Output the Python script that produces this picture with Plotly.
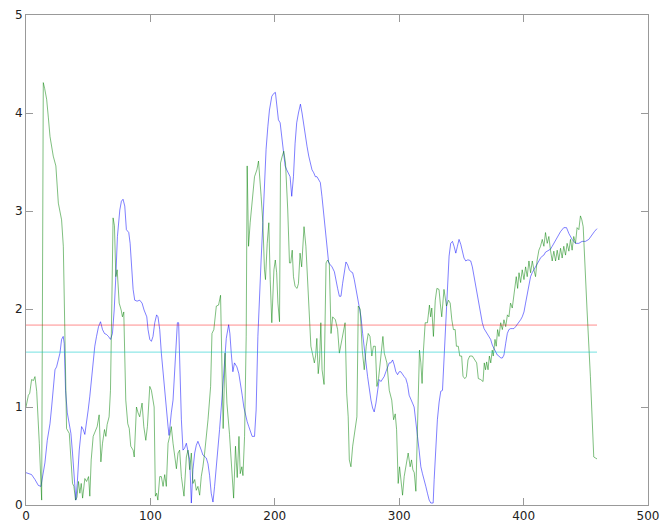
import plotly.graph_objects as go

blue_x = [0, 2, 4.5, 7.2, 9.9, 12, 13.4, 15.2, 17.1, 19.3, 20.6, 21.9, 23.3, 24.6, 25.9, 27.3, 28.6, 29.9, 30.7, 31.8,
          33.2, 34.8, 36.1, 37.4, 38.8, 40.1, 41.2, 42.8, 44.7, 46, 47.3, 48.7, 50, 51.3, 52.7, 54, 55.3, 56.7, 58.3, 59.9,
          61.5, 63.1, 64.7, 66.3, 67.9, 69.5, 70.9, 72.2, 73.5, 75.4, 76.7, 78, 79.4, 80.7, 82.6, 83.7, 84.8, 86.1, 87.4, 89.3,
          91.4, 93.3, 94.9, 97.1, 98.1, 99.5, 100.8, 102.1, 103.5, 105, 106.1, 107.5, 108.8, 110.2, 111.5, 112.9, 114.2, 115, 116, 116.8,
          118.2, 119.5, 120.9, 121.7, 122.7, 123.5, 124.9, 126.2, 127.5, 128.9, 130.2, 131.6, 132.9, 134.2, 135.6, 136.9, 138.2, 139.6, 140.9, 142.2,
          143.6, 144.9, 146.3, 147.6, 148.9, 150.3, 151.6, 152.9, 154.3, 155.6, 157, 158.3, 159.7, 161, 162.9, 163.9, 165, 166.3, 167.6, 169.5,
          171.1, 172.5, 173.8, 175.1, 176.5, 177.8, 179.1, 180.5, 181.8, 183.7, 185, 186.4, 187.7, 189, 190.4, 191.7, 193, 194.4, 195.7, 197.6,
          199.2, 200.5, 201.6, 202.9, 204.3, 205.6, 206.9, 208.3, 209.6, 210.9, 212.3, 213.6, 215, 216.3, 217.6, 219, 220.6, 221.9, 223.3, 224.6,
          225.9, 227.3, 228.6, 229.9, 231.3, 232.6, 233.9, 235.3, 236.6, 237.9, 239.3, 240.6, 242, 243.3, 244.7, 246, 247.9, 249.2, 250.5, 251.9,
          253.2, 254.5, 255.9, 257.2, 258.6, 259.9, 261.2, 262.6, 263.9, 265.2, 266.6, 267.9, 269.3, 270.6, 271.9, 273.3, 274.6, 275.9, 277.3, 278.6,
          279.9, 281.3, 282.6, 283.9, 285.3, 286.6, 287.9, 289.3, 290.6, 292, 293.3, 294.7, 296, 297.3, 298.7, 300, 301.3, 302.7, 304, 305.3,
          306.7, 308, 309.4, 310.7, 312, 313.4, 314.7, 316, 317.4, 318.7, 320.1, 321.4, 322.7, 324.1, 325.4, 327.3, 328.1, 329.4, 330.7, 332.1,
          333.4, 334.8, 336.1, 337.4, 338.8, 340.1, 341.4, 342.8, 344.1, 345.5, 346.8, 348.1, 349.5, 350.8, 352.1, 353.5, 354.8, 356.1, 357.5, 358.8,
          360.2, 361.5, 362.8, 364.2, 365.5, 366.8, 368.2, 369.5, 370.9, 372.2, 373.5, 374.9, 376.2, 377.5, 378.9, 380.2, 381.6, 382.9, 384.2, 385.6,
          386.9, 388.2, 389.6, 390.9, 392.2, 393.6, 394.9, 396.3, 397.6, 398.9, 400.3, 401.6, 402.9, 404.3, 405.6, 406.9, 408.3, 409.6, 411, 412.3,
          413.6, 415, 416.3, 417.6, 419, 420.3, 421.6, 423, 424.3, 427, 429.7, 432.3, 434.5, 436.4, 439, 441.7, 444.4, 447, 449.7, 452.4,
          455, 456.9, 459]
blue_y = [0.33, 0.32, 0.31, 0.26, 0.20, 0.19, 0.29, 0.43, 0.66, 0.83, 1.00, 1.21, 1.38, 1.41, 1.48, 1.55, 1.69, 1.72, 1.65, 1.17,
          0.94, 0.83, 0.73, 0.53, 0.26, 0.05, 0.22, 0.56, 0.80, 0.77, 0.72, 0.83, 0.97, 1.11, 1.31, 1.45, 1.62, 1.72, 1.82, 1.87,
          1.79, 1.75, 1.74, 1.72, 1.69, 1.75, 1.99, 2.33, 2.74, 3.01, 3.10, 3.12, 3.05, 2.81, 2.78, 2.67, 2.47, 2.20, 2.09, 2.08,
          2.09, 2.06, 1.99, 1.92, 1.79, 1.69, 1.67, 1.72, 1.86, 1.94, 1.92, 1.79, 1.55, 1.34, 1.14, 0.97, 0.80, 0.71, 0.90, 0.94,
          1.07, 1.38, 1.65, 1.86, 1.86, 1.45, 0.87, 0.56, 0.58, 0.63, 0.56, 0.46, 0.02, 0.36, 0.53, 0.61, 0.65, 0.61, 0.56, 0.51,
          0.49, 0.48, 0.42, 0.30, 0.12, 0.03, 0.19, 0.36, 0.56, 0.77, 1.00, 1.25, 1.52, 1.70, 1.84, 1.75, 1.55, 1.36, 1.45, 1.41,
          1.34, 1.24, 1.12, 1.00, 0.90, 0.85, 0.80, 0.75, 0.70, 0.70, 0.97, 1.72, 2.20, 2.50, 2.88, 3.32, 3.63, 3.86, 4.03, 4.17,
          4.20, 4.21, 4.07, 3.93, 3.90, 3.76, 3.56, 3.46, 3.42, 3.39, 3.35, 3.15, 3.35, 3.69, 3.90, 4.00, 4.09, 4.00, 3.86, 3.76,
          3.66, 3.56, 3.49, 3.42, 3.39, 3.35, 3.35, 3.32, 3.29, 3.15, 2.98, 2.81, 2.64, 2.47, 2.45, 2.43, 2.38, 2.31, 2.21, 2.13,
          2.13, 2.26, 2.40, 2.48, 2.45, 2.40, 2.38, 2.37, 2.30, 2.20, 2.09, 2.03, 1.92, 1.75, 1.58, 1.45, 1.31, 1.17, 1.07, 0.99,
          0.95, 1.04, 1.17, 1.28, 1.26, 1.28, 1.31, 1.36, 1.41, 1.45, 1.45, 1.48, 1.43, 1.36, 1.33, 1.36, 1.36, 1.34, 1.31, 1.29,
          1.23, 1.12, 1.07, 1.04, 1.00, 0.87, 0.70, 0.56, 0.39, 0.32, 0.26, 0.19, 0.12, 0.05, 0.02, 0.02, 0.26, 0.60, 0.87, 1.05,
          1.16, 1.17, 1.52, 1.96, 2.33, 2.54, 2.67, 2.69, 2.64, 2.57, 2.64, 2.71, 2.66, 2.59, 2.52, 2.49, 2.50, 2.50, 2.49, 2.43,
          2.33, 2.23, 2.13, 2.03, 1.92, 1.86, 1.80, 1.77, 1.75, 1.72, 1.69, 1.63, 1.60, 1.57, 1.53, 1.52, 1.50, 1.50, 1.53, 1.65,
          1.75, 1.79, 1.80, 1.80, 1.80, 1.82, 1.84, 1.86, 1.89, 1.92, 1.97, 2.06, 2.16, 2.26, 2.33, 2.37, 2.40, 2.43, 2.47, 2.50,
          2.52, 2.54, 2.55, 2.58, 2.59, 2.60, 2.61, 2.64, 2.67, 2.74, 2.79, 2.83, 2.83, 2.77, 2.71, 2.67, 2.67, 2.69, 2.69, 2.71,
          2.76, 2.79, 2.82]

green_x = [0, 1.9, 3, 4.5, 6, 7.2, 8.6, 9.9, 10.7, 12.6, 13.9, 15, 16.6, 18, 19.3, 21.9, 24, 26, 28.6, 30,
           31.3, 32.6, 34.8, 36.1, 37.4, 38.5, 39.8, 41, 42.2, 43.3, 44.4, 45.5, 47.3, 48.7, 50.3, 51.3, 52.4, 54, 56.1, 57.2,
           58.8, 60.2, 61.5, 63.1, 64.2, 65.2, 66.8, 67.9, 69, 70, 71.1, 72.2, 73.3, 74.9, 76.5, 77.5, 78.6, 80.2, 81.8, 83,
           84.2, 86.1, 87, 88.8, 90.1, 91.4, 93.3, 94.7, 96.3, 97.6, 99.5, 100.8, 103, 104, 105, 106, 107.5, 108.8, 110.2, 111.5,
           112.8, 114.2, 115.5, 116.8, 118.2, 119.5, 120.9, 122.2, 123.5, 124.9, 127, 128.9, 130.2, 131.6, 132.9, 134.2, 135.6, 136.9, 138.2, 139.6,
           140.9, 142.2, 143.6, 146.3, 148.4, 149.5, 151, 153, 154.8, 156.4, 157.5, 158.5, 160, 161.5, 163.6, 165.1, 166.9, 168.4, 169.8, 171.2,
           172.2, 173.5, 174.4, 175.7, 177, 177.8, 178.9, 180.2, 181.8, 183.7, 185.6, 186.9, 189, 190.4, 191.7, 192.5, 193.9, 195.2, 196.3, 197.6,
           199.3, 200.4, 201.5, 202.5, 203.8, 204.6, 206, 207.2, 208.6, 209.6, 210.4, 211.8, 212.8, 214, 215, 216.3, 217.9, 219, 220.3, 221.6,
           223.5, 225, 226.4, 227.8, 229, 230.5, 231.8, 232.8, 233.8, 234.9, 236, 237, 238, 239.6, 241.2, 242.5, 243.8, 245.2, 246.5, 248.7,
           250.5, 251.9, 254.5, 256.5, 257.8, 259, 259.9, 261.2, 262.6, 264.4, 266, 267.1, 268.6, 270.3, 271.9, 273.5, 275.1, 276.5, 278, 279.3,
           280.8, 282.1, 283.4, 285.3, 286.9, 288, 290.1, 292, 294, 295.5, 296.8, 297.9, 299.2, 300.3, 301.4, 302.7, 304, 306.1, 307.2, 308.8,
           309.9, 311, 312.1, 313.4, 314.7, 316.3, 317.4, 318.4, 319.5, 320.9, 322.7, 324.3, 325.3, 326.2, 327.5, 329, 330.3, 332, 333, 334.2,
           336, 338, 339.6, 341, 342.3, 343.6, 345, 346, 347.5, 348.7, 350.2, 351.3, 352.9, 354, 355.3, 356.7, 358.8, 361, 362.3, 363.6,
           365.5, 367.4, 368.4, 369.4, 370.3, 371.4, 372.5, 373.6, 374.8, 375.6, 377, 378, 379.1, 380.2, 381.6, 382.9, 384.2, 385.6, 387, 388.2,
           389.5, 390.9, 392.2, 393, 394.1, 395.2, 396.3, 397.6, 398.9, 400.3, 401.6, 402.9, 404.3, 405.6, 407, 408.3, 409.6, 410.9, 412.3, 413.6,
           415, 416.3, 417.6, 419, 420.3, 421.6, 423, 424.3, 425.7, 427, 428.3, 429.7, 431, 432.3, 433.7, 435, 436.4, 437.7, 439, 440.3,
           441.7, 443, 444.4, 445.7, 446.8, 447.9, 449, 451, 453.7, 456.4, 457.7, 459]
green_y = [1.00, 1.12, 1.14, 1.28, 1.27, 1.31, 1.16, 0.87, 0.63, 0.05, 4.31, 4.25, 4.14, 3.95, 3.76, 3.56, 3.46, 3.08, 2.91, 2.64,
           1.72, 0.78, 0.73, 0.46, 0.22, 0.19, 0.05, 0.08, 0.24, 0.12, 0.22, 0.07, 0.27, 0.24, 0.29, 0.09, 0.46, 0.70, 0.78, 0.80,
           0.92, 0.44, 0.63, 0.77, 0.70, 0.82, 0.90, 1.17, 2.06, 2.93, 2.85, 2.33, 2.40, 2.06, 1.99, 1.92, 1.97, 1.07, 0.83, 0.78,
           0.60, 0.56, 0.49, 1.00, 0.94, 0.90, 1.04, 0.80, 0.66, 0.80, 1.21, 1.17, 1.00, 0.09, 0.12, 0.05, 0.29, 0.29, 0.19, 0.31,
           0.19, 0.63, 0.70, 0.80, 0.63, 0.49, 0.37, 0.53, 0.56, 0.29, 0.09, 0.49, 0.56, 0.36, 0.53, 0.22, 0.26, 0.15, 0.19, 0.10,
           0.29, 0.39, 0.53, 0.87, 1.21, 1.75, 1.79, 2.03, 2.04, 2.14, 1.40, 0.78, 1.55, 1.04, 0.72, 0.45, 0.07, 0.60, 0.28, 0.70,
           0.32, 0.39, 0.30, 0.70, 1.72, 3.46, 2.64, 2.88, 3.08, 3.35, 3.42, 3.51, 3.15, 2.88, 2.40, 2.30, 2.67, 2.88, 2.30, 1.86,
           2.40, 2.50, 2.37, 2.06, 1.87, 3.49, 3.56, 3.61, 3.49, 3.29, 3.01, 2.47, 2.47, 2.60, 2.33, 2.23, 2.21, 2.26, 2.57, 2.43,
           2.84, 2.64, 2.30, 1.92, 1.62, 1.53, 1.45, 1.52, 1.70, 1.34, 1.48, 1.86, 1.38, 1.23, 2.47, 2.50, 2.47, 1.75, 1.92, 1.89,
           1.79, 1.55, 1.75, 1.86, 1.14, 0.90, 0.46, 0.39, 0.60, 0.77, 0.90, 2.03, 2.00, 1.58, 1.38, 1.62, 1.75, 1.72, 1.52, 1.62,
           1.62, 1.21, 1.29, 1.52, 1.72, 1.55, 1.45, 1.17, 1.07, 0.87, 0.93, 0.77, 0.22, 0.39, 0.22, 0.10, 0.29, 0.43, 0.53, 0.39,
           0.46, 0.36, 0.33, 0.14, 0.73, 1.58, 1.45, 1.24, 1.58, 1.86, 1.86, 2.04, 1.92, 2.01, 1.72, 2.09, 2.21, 2.20, 2.06, 1.92,
           2.20, 2.03, 2.09, 2.06, 1.89, 1.79, 1.79, 1.62, 1.62, 1.52, 1.52, 1.31, 1.29, 1.31, 1.48, 1.52, 1.52, 1.48, 1.45, 1.29,
           1.28, 1.26, 1.45, 1.38, 1.46, 1.38, 1.52, 1.45, 1.58, 1.52, 1.69, 1.62, 1.79, 1.72, 1.86, 1.79, 1.89, 1.82, 1.94, 1.92,
           2.06, 2.01, 2.13, 2.23, 2.33, 2.21, 2.37, 2.27, 2.40, 2.30, 2.43, 2.33, 2.49, 2.37, 2.49, 2.40, 2.33, 2.50, 2.60, 2.64,
           2.71, 2.64, 2.78, 2.67, 2.74, 2.60, 2.49, 2.59, 2.49, 2.60, 2.50, 2.62, 2.52, 2.64, 2.55, 2.67, 2.59, 2.71, 2.60, 2.74,
           2.67, 2.83, 2.81, 2.95, 2.91, 2.84, 2.47, 1.99, 1.31, 0.49, 0.48, 0.47]

line_x = [0, 459]
red_level = 1.836
cyan_level = 1.56

x_ticks = [0, 100, 200, 300, 400, 500]
y_ticks = [0, 1, 2, 3, 4, 5]

fig = go.Figure()
fig.add_trace(go.Scatter(x=blue_x, y=blue_y, mode="lines",
                         line=dict(color="rgba(0,0,255,0.5)", width=1), showlegend=False))
fig.add_trace(go.Scatter(x=green_x, y=green_y, mode="lines",
                         line=dict(color="rgba(0,128,0,0.5)", width=1), showlegend=False))
fig.add_trace(go.Scatter(x=line_x, y=[red_level, red_level], mode="lines",
                         line=dict(color="rgba(255,0,0,0.45)", width=1), showlegend=False))
fig.add_trace(go.Scatter(x=line_x, y=[cyan_level, cyan_level], mode="lines",
                         line=dict(color="rgba(0,200,200,0.55)", width=1), showlegend=False))

axis_common = dict(showgrid=False, zeroline=False, showline=True, linecolor="#999999", linewidth=1,
                   mirror="ticks", ticks="inside", ticklen=7, tickcolor="#999999", automargin=False,
                   tickfont=dict(family="DejaVu Sans", size=12, color="#222222"))
fig.update_xaxes(range=[0, 500], tickvals=x_ticks, ticktext=[str(v) for v in x_ticks], **axis_common)
fig.update_yaxes(range=[0, 5], tickvals=y_ticks, ticktext=[str(v) for v in y_ticks], **axis_common)
fig.update_layout(width=660, height=528, margin=dict(l=26, r=12, t=15, b=23),
                  paper_bgcolor="white", plot_bgcolor="white", font=dict(family="DejaVu Sans"),
                  hovermode=False)
fig.write_html("out.html", config={"displayModeBar": False, "staticPlot": True},
               post_script="document.body.style.margin='0';document.body.style.overflow='hidden';")
